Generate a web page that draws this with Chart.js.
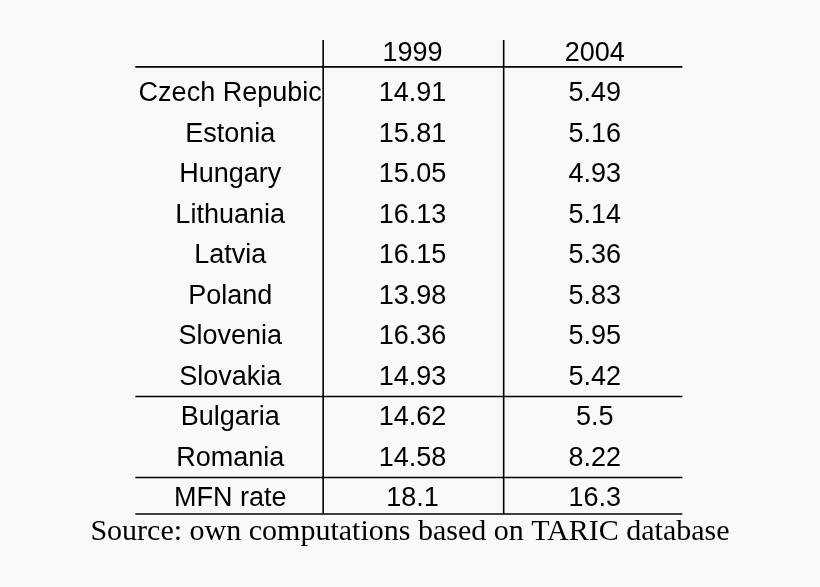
<!DOCTYPE html>
<html><head><meta charset="utf-8">
<script src="https://cdn.jsdelivr.net/npm/chart.js@4"></script>
<style>html,body{margin:0;background:#f9f9f9}#c{display:block}</style>
</head><body>
<div style="width:820px;height:587px"><canvas id="c"></canvas></div>
<script>
const headers = ['', '1999', '2004'];
const rows = ['Czech Repubic', 'Estonia', 'Hungary', 'Lithuania', 'Latvia', 'Poland', 'Slovenia', 'Slovakia', 'Bulgaria', 'Romania', 'MFN rate'];
const v1999 = ['14.91', '15.81', '15.05', '16.13', '16.15', '13.98', '16.36', '14.93', '14.62', '14.58', '18.1'];
const v2004 = ['5.49', '5.16', '4.93', '5.14', '5.36', '5.83', '5.95', '5.42', '5.5', '8.22', '16.3'];
const source = 'Source: own computations based on TARIC database';

// cells: column index x, row index y (row 0 = header)
const cols = [[headers[0], ...rows], [headers[1], ...v1999], [headers[2], ...v2004]];
const datasets = cols.map((c, ci) => ({
  data: c.map((t, ri) => ({ x: ci, y: ri, t })),
  pointRadius: 0, showLine: false
}));

const tablePlugin = {
  id: 'table',
  afterDatasetsDraw(chart) {
    const ctx = chart.ctx, xs = chart.scales.x, ys = chart.scales.y;
    ctx.save();
    ctx.strokeStyle = '#000'; ctx.lineWidth = 1.6;
    const hline = (y) => { ctx.beginPath(); ctx.moveTo(xs.getPixelForValue(-0.52), ys.getPixelForValue(y)); ctx.lineTo(xs.getPixelForValue(2.48), ys.getPixelForValue(y)); ctx.stroke(); };
    [0.36, 8.5, 10.5, 11.4].forEach(hline);
    [0.51, 1.5].forEach(x => {
      ctx.beginPath(); ctx.moveTo(xs.getPixelForValue(x), ys.getPixelForValue(-0.3));
      ctx.lineTo(xs.getPixelForValue(x), ys.getPixelForValue(11.4)); ctx.stroke();
    });
    ctx.fillStyle = '#000'; ctx.font = '27px "Liberation Sans", Arial, sans-serif';
    ctx.textAlign = 'center'; ctx.textBaseline = 'middle';
    chart.data.datasets.forEach((ds, di) => {
      chart.getDatasetMeta(di).data.forEach((pt, i) => {
        const t = ds.data[i].t;
        if (t) ctx.fillText(t, pt.x, pt.y + 1);
      });
    });
    ctx.font = '30px "Liberation Serif", "Times New Roman", serif';
    ctx.fillText(source, 410, ys.getPixelForValue(11.85));
    ctx.restore();
  }
};

new Chart(document.getElementById('c'), {
  type: 'scatter',
  data: { datasets },
  options: {
    responsive: true, maintainAspectRatio: false, animation: false,
    layout: { padding: { left: 139, right: 134, top: 32, bottom: 69 } },
    plugins: { legend: { display: false }, tooltip: { enabled: false } },
    scales: {
      x: { type: 'linear', min: -0.5, max: 2.5, display: false },
      y: { type: 'linear', min: -0.5, max: 11.5, reverse: true, display: false }
    }
  },
  plugins: [tablePlugin]
});
</script>
</body></html>
